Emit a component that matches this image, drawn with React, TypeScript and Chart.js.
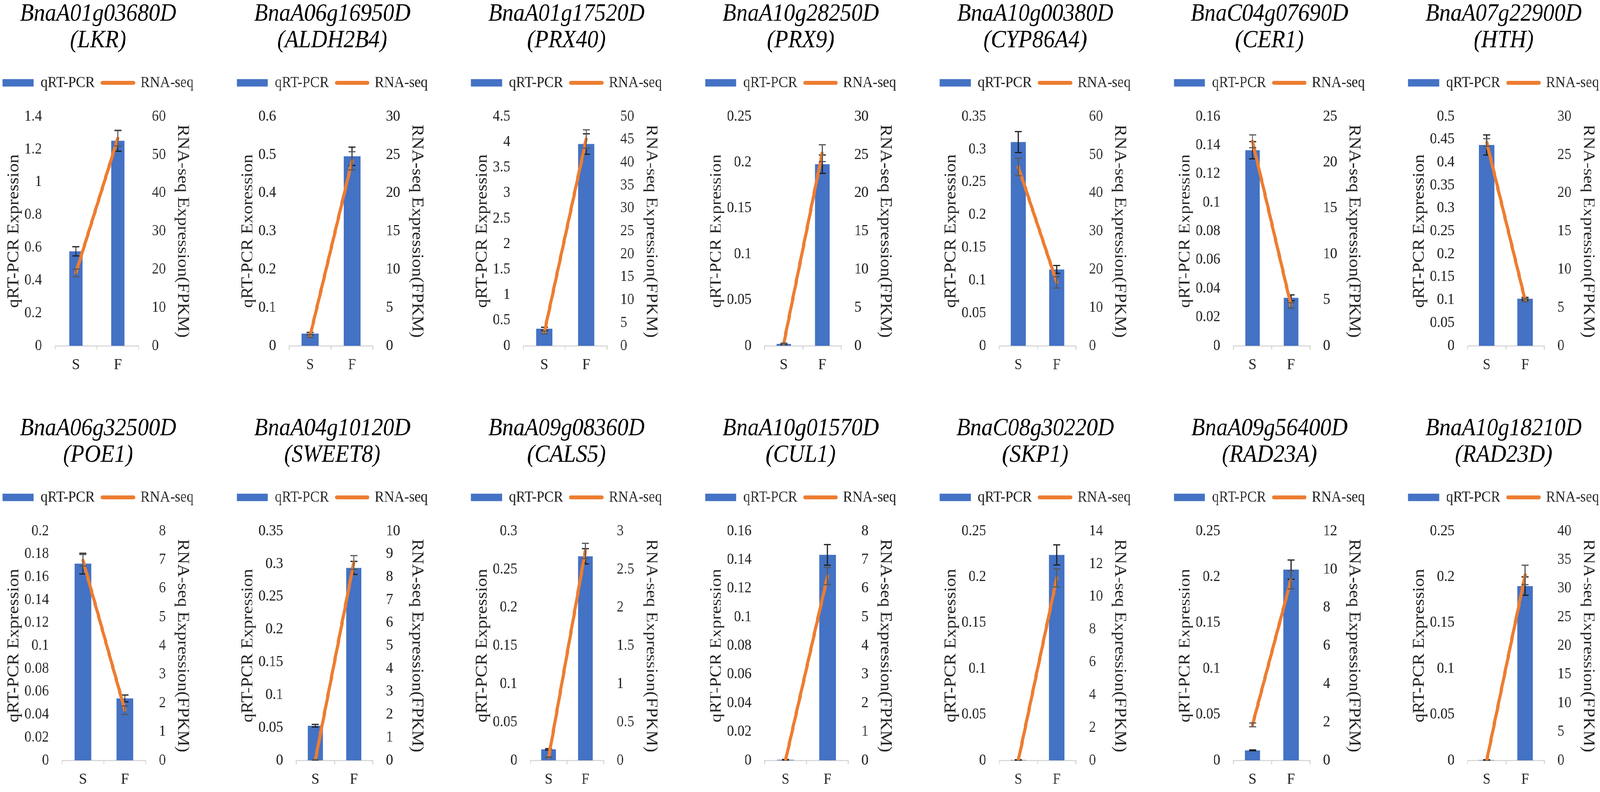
import React, { useEffect, useRef } from 'react';
import { Chart, registerables } from 'chart.js';

Chart.register(...registerables);

// ---------------- data ----------------
const categories = ['S', 'F'];

const geneIds = [
  'BnaA01g03680D', 'BnaA06g16950D', 'BnaA01g17520D', 'BnaA10g28250D', 'BnaA10g00380D', 'BnaC04g07690D', 'BnaA07g22900D',
  'BnaA06g32500D', 'BnaA04g10120D', 'BnaA09g08360D', 'BnaA10g01570D', 'BnaC08g30220D', 'BnaA09g56400D', 'BnaA10g18210D',
];
const geneNames = [
  'LKR', 'ALDH2B4', 'PRX40', 'PRX9', 'CYP86A4', 'CER1', 'HTH',
  'POE1', 'SWEET8', 'CALS5', 'CUL1', 'SKP1', 'RAD23A', 'RAD23D',
];
const seriesLabels = ['qRT-PCR', 'RNA-seq'];
const leftAxisTitles = [
  'qRT-PCR Expression', 'qRT-PCR Exoression', 'qRT-PCR Expression', 'qRT-PCR Expression', 'qRT-PCR Expression', 'qRT-PCR Expression', 'qRT-PCR Expression',
  'qRT-PCR Expression', 'qRT-PCR Expression', 'qRT-PCR Expression', 'qRT-PCR Expression', 'qRT-PCR Expression', 'qRT-PCR Expression', 'qRT-PCR Expression',
];
const rightAxisTitle = 'RNA-seq Expression(FPKM)';

// axis ranges (tick labels run 0..max by step)
const leftMax = [1.4, 0.6, 4.5, 0.25, 0.35, 0.16, 0.5, 0.2, 0.35, 0.3, 0.16, 0.25, 0.25, 0.25];
const leftStep = [0.2, 0.1, 0.5, 0.05, 0.05, 0.02, 0.05, 0.02, 0.05, 0.05, 0.02, 0.05, 0.05, 0.05];
const rightMax = [60, 30, 50, 30, 60, 25, 30, 8, 10, 3, 8, 14, 12, 40];
const rightStep = [10, 5, 5, 5, 10, 5, 5, 1, 1, 0.5, 1, 2, 2, 5];

// qRT-PCR bars (left axis)
const qpcrS = [0.577, 0.032, 0.335, 0.002, 0.311, 0.1365, 0.438, 0.1716, 0.0528, 0.0144, 0.0004, 0.0004, 0.0109, 0.0004];
const qpcrF = [1.252, 0.496, 3.96, 0.198, 0.1165, 0.0335, 0.1027, 0.054, 0.2938, 0.267, 0.1434, 0.224, 0.208, 0.19];
const qpcrErrS = [0.028, 0.003, 0.03, 0.0005, 0.016, 0.006, 0.022, 0.009, 0.002, 0.001, 0.0002, 0.0002, 0.0005, 0.0002];
const qpcrErrF = [0.064, 0.024, 0.2, 0.01, 0.006, 0.002, 0.003, 0.003, 0.01, 0.01, 0.0072, 0.011, 0.0105, 0.01];

// RNA-seq line (right axis, FPKM)
const rnaS = [19.1, 1.3, 2.9, 0.3, 46.8, 22.3, 26.6, 6.98, 0.02, 0.04, 0, 0, 1.86, 0];
const rnaF = [54.3, 24.2, 45.1, 25.2, 16.6, 4.4, 5.97, 1.75, 8.63, 2.74, 6.43, 11.14, 9.44, 32.35];
const rnaErrS = [1.0, 0.2, 0.3, 0.05, 2.3, 0.7, 0.5, 0.2, 0.01, 0.005, 0, 0, 0.1, 0];
const rnaErrF = [2.0, 1.2, 2.0, 1.1, 1.5, 0.3, 0.2, 0.15, 0.3, 0.1, 0.3, 0.55, 0.47, 1.7];

// ---------------- style ----------------
const barWidthFraction = [0.31, 0.4, 0.39, 0.38, 0.39, 0.38, 0.4, 0.4, 0.4, 0.4, 0.4, 0.4, 0.4, 0.4];
const BLUE = '#4472C4';
const ORANGE = '#ED7D31';
const TEXT = '#262626';
const AXIS = '#D9D9D9';
const SERIF = "'Liberation Serif', 'Times New Roman', serif";
const TICK_SIZE = 40;
const AXIS_TITLE_SIZE = 46;
const TICK_PAD = 37;
const W = 600;
const H = 973;
const COL_STEP = 666.3;
const ROW_TOPS = [0, 1061];
const DESIGN_W = 4550;
const DESIGN_H = 2027;

Chart.defaults.font.family = SERIF;

const errorBarPlugin = {
  id: 'errorBars',
  afterDatasetDraw(chart: any, args: any) {
    const ds = chart.data.datasets[args.index];
    const errs = ds.errors;
    if (!errs) return;
    const meta = args.meta;
    const scale = chart.scales[meta.yAxisID];
    const ctx = chart.ctx;
    ctx.save();
    ctx.strokeStyle = ds.errorColor;
    ctx.lineWidth = 3;
    const cap = 10;
    meta.data.forEach((el: any, k: number) => {
      const v = ds.data[k];
      const e = errs[k];
      if (!e) return;
      const x = el.x;
      const yT = scale.getPixelForValue(v + e);
      const yB = scale.getPixelForValue(Math.max(0, v - e));
      ctx.beginPath();
      ctx.moveTo(x, yT);
      ctx.lineTo(x, yB);
      ctx.moveTo(x - cap, yT);
      ctx.lineTo(x + cap, yT);
      ctx.moveTo(x - cap, yB);
      ctx.lineTo(x + cap, yB);
      ctx.stroke();
    });
    ctx.restore();
  },
};

const fmt = (v: any) => String(parseFloat(Number(v).toFixed(6)));

// fixed-width vertical axes: title block + widest tick label + tick padding
function fitAxis(titleBlock: number) {
  return (scale: any) => {
    const ctx = scale.ctx;
    ctx.save();
    ctx.font = `${TICK_SIZE}px ${SERIF}`;
    let w = 0;
    for (const t of scale.ticks) w = Math.max(w, ctx.measureText(String(t.label)).width);
    ctx.restore();
    scale.width = titleBlock + w + TICK_PAD;
  };
}

function Panel({ i }: { i: number }) {
  const ref = useRef<HTMLCanvasElement>(null);
  useEffect(() => {
    const titleLH = AXIS_TITLE_SIZE * 1.2;
    const chart = new Chart(ref.current as HTMLCanvasElement, {
      type: 'bar',
      data: {
        labels: categories,
        datasets: [
          {
            type: 'bar',
            label: seriesLabels[0],
            data: [qpcrS[i], qpcrF[i]],
            errors: [qpcrErrS[i], qpcrErrF[i]],
            errorColor: '#1f1f1f',
            backgroundColor: BLUE,
            borderWidth: 0,
            yAxisID: 'y',
            order: 1,
            categoryPercentage: 1,
            barPercentage: barWidthFraction[i],
          } as any,
          {
            type: 'line',
            label: seriesLabels[1],
            data: [rnaS[i], rnaF[i]],
            errors: [rnaErrS[i], rnaErrF[i]],
            errorColor: '#595959',
            borderColor: ORANGE,
            backgroundColor: ORANGE,
            borderWidth: 9,
            borderCapStyle: 'round',
            borderJoinStyle: 'round',
            pointRadius: 0,
            pointHoverRadius: 0,
            tension: 0,
            yAxisID: 'y1',
            order: 0,
          } as any,
        ],
      },
      options: {
        responsive: false,
        animation: false,
        events: [],
        layout: { padding: 0 },
        plugins: {
          title: {
            display: true,
            text: [geneIds[i], `(${geneNames[i]})`],
            color: '#000',
            font: { family: SERIF, size: 64, style: 'italic', weight: 'normal', lineHeight: 1.05 },
            padding: { top: 3, bottom: 32.6 },
          },
          legend: {
            display: true,
            position: 'top',
            align: 'center',
            labels: {
              usePointStyle: true,
              pointStyleWidth: 88,
              boxHeight: 19,
              padding: 22,
              color: TEXT,
              font: { family: SERIF, size: 40 },
              generateLabels: (c: any) => [
                { text: c.data.datasets[0].label, fillStyle: BLUE, strokeStyle: BLUE, lineWidth: 0, pointStyle: 'rect', datasetIndex: 0, hidden: false, fontColor: TEXT },
                { text: c.data.datasets[1].label, fillStyle: ORANGE, strokeStyle: ORANGE, lineWidth: 10, lineCap: 'round', pointStyle: 'line', datasetIndex: 1, hidden: false, fontColor: TEXT },
              ],
            },
          },
          subtitle: {
            display: true,
            text: '',
            position: 'top',
            weight: 500,
            padding: { top: 55, bottom: 0 },
            font: { size: 1 },
          } as any,
          tooltip: { enabled: false },
        },
        scales: {
          x: {
            type: 'category',
            grid: { display: true, drawOnChartArea: false, drawTicks: true, tickLength: 10, color: AXIS, lineWidth: 3, offset: true },
            border: { display: true, color: AXIS, width: 3 },
            ticks: { color: TEXT, font: { family: SERIF, size: TICK_SIZE }, padding: 15 },
          },
          y: {
            type: 'linear',
            position: 'left',
            min: 0,
            max: leftMax[i],
            grid: { display: false, drawTicks: false },
            border: { display: false },
            ticks: { stepSize: leftStep[i], padding: TICK_PAD, color: TEXT, font: { family: SERIF, size: TICK_SIZE }, callback: fmt, autoSkip: false, maxTicksLimit: 50 },
            title: { display: true, text: leftAxisTitles[i], color: TEXT, font: { family: SERIF, size: AXIS_TITLE_SIZE }, padding: { top: 33, bottom: 2 } },
            afterFit: fitAxis(titleLH + 33 + 2),
          },
          y1: {
            type: 'linear',
            position: 'right',
            min: 0,
            max: rightMax[i],
            grid: { display: false, drawTicks: false },
            border: { display: false },
            ticks: { stepSize: rightStep[i], padding: TICK_PAD, color: TEXT, font: { family: SERIF, size: TICK_SIZE }, callback: fmt, autoSkip: false, maxTicksLimit: 50 },
            title: { display: true, text: rightAxisTitle, color: TEXT, font: { family: SERIF, size: AXIS_TITLE_SIZE }, padding: { top: 32, bottom: 20 } },
            afterFit: fitAxis(titleLH + 32 + 20),
          },
        },
      } as any,
      plugins: [errorBarPlugin],
    });
    return () => chart.destroy();
  }, [i]);

  const col = i % 7;
  const row = Math.floor(i / 7);
  return (
    <div style={{ position: 'absolute', left: 7 + COL_STEP * col - 28.5, top: ROW_TOPS[row], width: W, height: H }}>
      <canvas ref={ref} width={W} height={H} style={{ width: W, height: H, display: 'block' }} />
    </div>
  );
}

export default function App() {
  // the figure is laid out at 4550x2027 and fitted to whatever viewport we actually get
  const vw = window.innerWidth || DESIGN_W;
  const vh = window.innerHeight || DESIGN_H;
  const sx = vw / DESIGN_W;
  const sy = vh / DESIGN_H;
  return (
    <div style={{ position: 'absolute', left: 0, top: 0, width: vw, height: vh, overflow: 'hidden', background: '#fff' }}>
      <div
        style={{
          position: 'absolute',
          left: 0,
          top: 0,
          width: DESIGN_W,
          height: DESIGN_H,
          overflow: 'hidden',
          transform: `scale(${sx}, ${sy})`,
          transformOrigin: '0 0',
        }}
      >
        {geneIds.map((_, i) => (
          <Panel key={i} i={i} />
        ))}
      </div>
    </div>
  );
}
